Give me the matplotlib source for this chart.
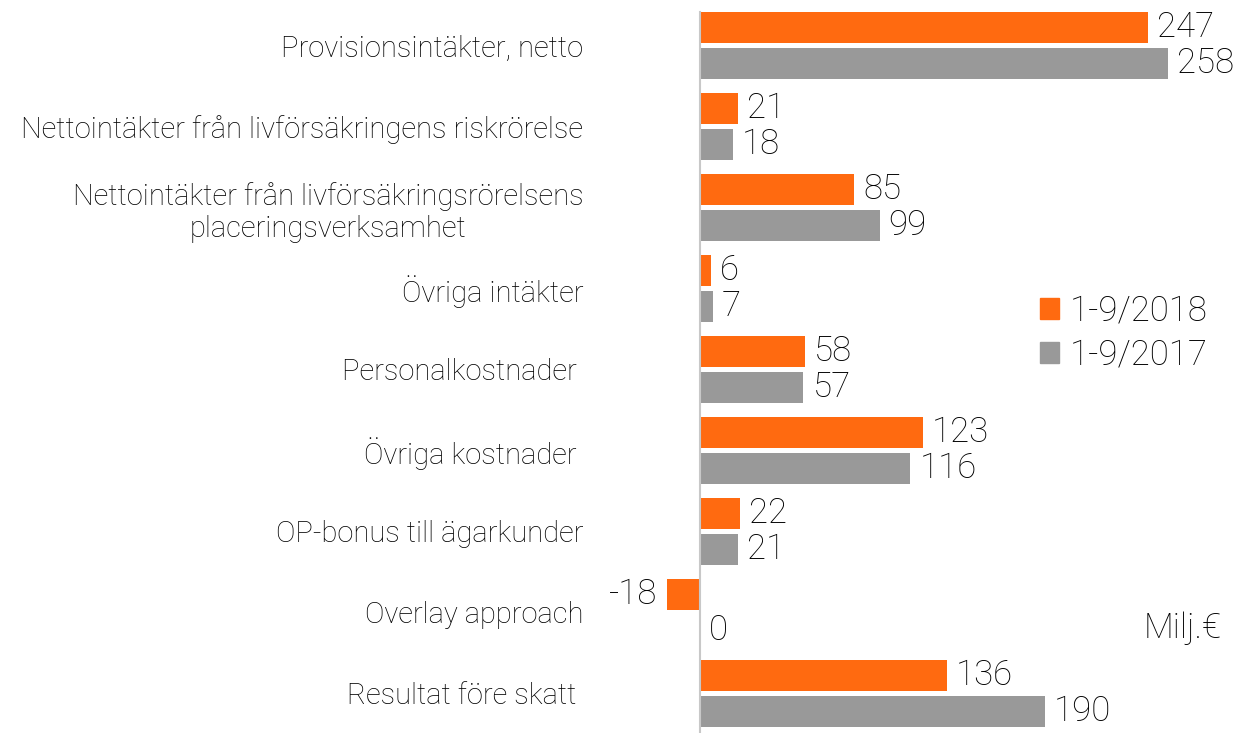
import numpy as np
import matplotlib.pyplot as plt
from matplotlib.patches import Patch
from matplotlib.transforms import offset_copy

plt.rcParams['font.family'] = ['Roboto', 'DejaVu Sans']
plt.rcParams['font.weight'] = 'light'

categories = [
    'Provisionsintäkter, netto',
    'Nettointäkter från livförsäkringens riskrörelse',
    'Nettointäkter från livförsäkringsrörelsens\nplaceringsverksamhet',
    'Övriga intäkter',
    'Personalkostnader ',
    'Övriga kostnader ',
    'OP-bonus till ägarkunder',
    'Overlay approach',
    'Resultat före skatt ',
]
v2018 = [247, 21, 85, 6, 58, 123, 22, -18, 136]
v2017 = [258, 18, 99, 7, 57, 116, 21, 0, 190]
series = ['1-9/2018', '1-9/2017']

orange = '#ff6a10'
grey = '#999999'

W, H = 1237, 733
fig = plt.figure(figsize=(W / 100, H / 100), dpi=100)
ax = fig.add_axes([600 / W, 0, 637 / W, 1])

y = np.arange(len(categories))
h = 0.38
off = 0.222
ax.barh(y - off, v2018, height=h, color=orange)
ax.barh(y + off, v2017, height=h, color=grey)

ax.set_xlim(-55.1, 296)
ax.set_ylim(8.488, -0.562)

for vals, dy in ((v2018, -off), (v2017, off)):
    for yi, v in zip(y, vals):
        if v < 0:
            tr = offset_copy(ax.transData, fig=fig, x=-10, y=0, units='dots')
            ax.text(v, yi + dy, str(v), transform=tr, ha='right', va='center', fontsize=25)
        else:
            tr = offset_copy(ax.transData, fig=fig, x=9, y=0, units='dots')
            ax.text(v, yi + dy, str(v), transform=tr, ha='left', va='center', fontsize=25)

ax.axvline(0, ymin=0, ymax=1 - 12 / H, color='#c8c8c8', lw=1.5)
for s in ax.spines.values():
    s.set_visible(False)
ax.set_xticks([])
ax.set_yticks(y)
labels = ax.set_yticklabels(categories, fontsize=21)
labels[2].set_multialignment('center')
ax.tick_params(axis='y', length=0, pad=12)

handles = [Patch(color=orange), Patch(color=grey)]
ax.legend(handles, series, loc='center left', bbox_to_anchor=(440 / 637, 1 - 333 / H),
          frameon=False, fontsize=25, handlelength=0.55, handleheight=0.55,
          handletextpad=0.3, labelspacing=0.3, borderaxespad=0, borderpad=0)

fig.text(1222 / W, 1 - 628 / H, 'Milj.€', ha='right', va='center', fontsize=25)

fig.savefig('out.png', dpi=100)
